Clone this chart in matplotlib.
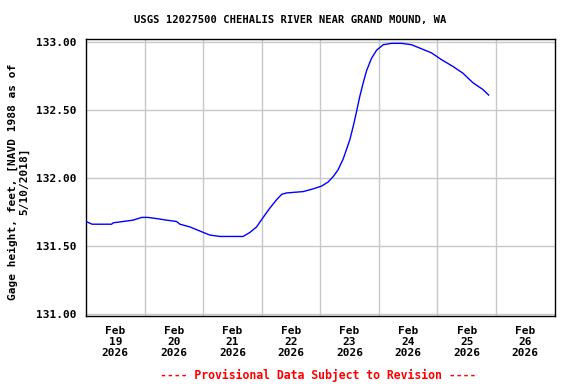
# -*- coding: utf-8 -*-

import numpy as np
import matplotlib.pyplot as plt

#==============================================================================
# Data: gage height (hours after Feb 19 00:00)
#==============================================================================

hours = [0, 2.5, 10.5, 11.1, 15.2, 19.3, 22.8, 25.4, 29.5, 33.0, 37.1, 38.5,
         42.6, 45.3, 48.0, 50.8, 54.9, 59.0, 64.4, 67.2, 69.9, 72.6, 75.4,
         78.1, 80.2, 82.2, 89.0, 93.1, 96.5, 99.2, 101.3, 103.3, 105.4,
         108.1, 109.5, 110.9, 112.2, 113.6, 115.0, 117.0, 119.1, 121.8,
         125.2, 129.3, 133.4, 137.5, 141.6, 145.7, 150.4, 154.5, 158.6,
         162.7, 165.0]
gage = [131.68, 131.66, 131.66, 131.67, 131.68, 131.69, 131.71, 131.71,
        131.70, 131.69, 131.68, 131.66, 131.64, 131.62, 131.60, 131.58,
        131.57, 131.57, 131.57, 131.60, 131.64, 131.71, 131.78, 131.84,
        131.88, 131.89, 131.90, 131.92, 131.94, 131.97, 132.01, 132.06,
        132.14, 132.28, 132.38, 132.49, 132.60, 132.70, 132.79, 132.88,
        132.94, 132.98, 132.99, 132.99, 132.98, 132.95, 132.92, 132.87,
        132.82, 132.77, 132.70, 132.65, 132.61]

days = ["19", "20", "21", "22", "23", "24", "25", "26"]
yticks = [131.0, 131.5, 132.0, 132.5, 133.0]

title = "USGS 12027500 CHEHALIS RIVER NEAR GRAND MOUND, WA"
ylab = "Gage height, feet, [NAVD 1988 as of\n5/10/2018]"
note = "---- Provisional Data Subject to Revision ----"

#==============================================================================
# Figur
#==============================================================================

plt.rcParams['font.family'] = 'DejaVu Sans Mono'
plt.rcParams['font.weight'] = 'bold'

fig = plt.figure(figsize=(5.76, 3.84), dpi=100)
ax = fig.add_axes([0.1493, 0.1771, 0.8134, 0.7213])

t = np.array(hours) / 24.0
ax.plot(t, gage, color="#0000ff", lw=1.0, zorder=3)

ax.set_xlim(0, 8)
ax.set_ylim(130.985, 133.022)

ax.set_xticks(np.arange(8) + 0.5)
ax.set_xticklabels(["Feb\n%s\n2026" % d for d in days], fontsize=8,
                   fontweight="bold", linespacing=1.15)
ax.set_xticks(np.arange(1, 8), minor=True)
ax.set_yticks(yticks)
ax.set_yticklabels(["%.2f" % v for v in yticks], fontsize=8, fontweight="bold")

ax.tick_params(which="both", length=0)
ax.tick_params(axis="x", pad=7)
ax.tick_params(axis="y", pad=6.5)
ax.grid(True, axis="x", which="minor", color="#c8c8c8", lw=1.0)
ax.grid(True, axis="y", which="major", color="#c8c8c8", lw=1.0)

for s in ax.spines.values():
    s.set_linewidth(1.0)
    s.set_color("black")

fig.text(0.503, 1 - 20/384., title, ha="center", va="center", fontsize=7.6,
         fontweight="bold")
fig.text(0.032, 0.527, ylab, rotation=90, ha="center", va="center",
         fontsize=8, fontweight="bold", multialignment="center",
         linespacing=1.1)
fig.text(0.552, 1 - 375/384., note, ha="center", va="center", fontsize=8.3,
         fontweight="bold", color="red")

plt.savefig("out.png", dpi=100)
